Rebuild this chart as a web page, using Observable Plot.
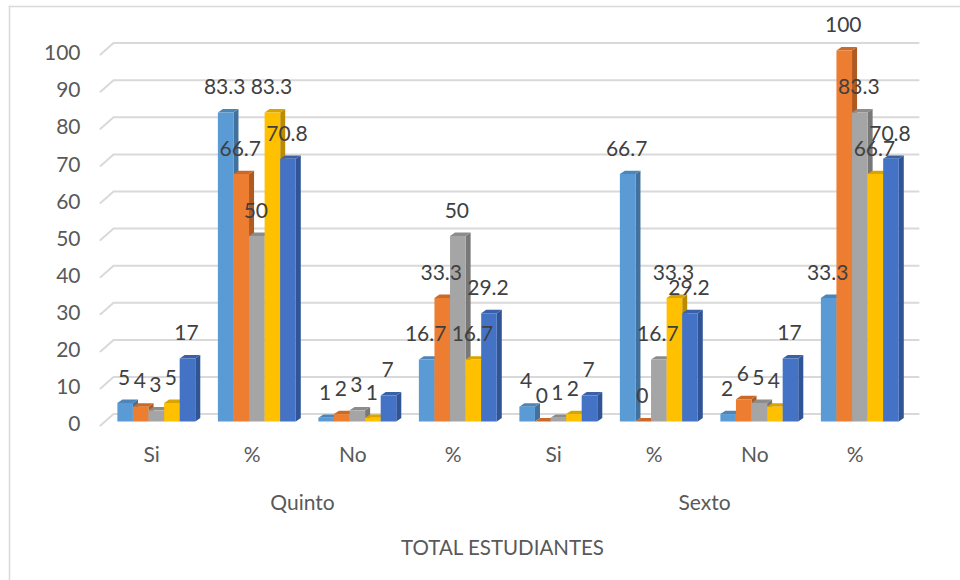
<!DOCTYPE html>
<html><head><meta charset="utf-8">
<script src="https://cdn.jsdelivr.net/npm/d3@7"></script>
<script src="https://cdn.jsdelivr.net/npm/@observablehq/plot@0.6"></script>
<style>html,body{margin:0;padding:0;background:#fff}svg{display:block}</style>
</head><body><div id="c"></div>
<script>
const categories = ["Si","%","No","%","Si","%","No","%"];
const groups = ["Quinto","Sexto"];
const axisTitle = "TOTAL ESTUDIANTES";
const yTicks = [0,10,20,30,40,50,60,70,80,90,100];
const serie1 = [5,83.3,1,16.7,4,66.7,2,33.3];
const serie2 = [4,66.7,2,33.3,0,0,6,100];
const serie3 = [3,50,3,50,1,16.7,5,83.3];
const serie4 = [5,83.3,1,16.7,2,33.3,4,66.7];
const serie5 = [17,70.8,7,29.2,7,29.2,17,70.8];
const series = [serie1,serie2,serie3,serie4,serie5];
const front = ["#5B9BD5","#ED7D31","#A5A5A5","#FFC000","#4472C4"];
const side  = ["#41719C","#AE5A21","#787878","#BC8C00","#2F5597"];
const topc  = ["#4E85B8","#C96A28","#8C8C8C","#D9A300","#3A61A8"];

const barW = 0.155, start = 0.148, ddx = 0.05, ddy = 0.92;
const bars = [];
categories.forEach((c,i)=>series.forEach((s,k)=>{
  bars.push({x0:i+start+k*barW, x1:i+start+(k+1)*barW, v:s[i], k});
}));
const faces = [];
bars.forEach((b,n)=>{
  const add=(name,fill,pts)=>pts.forEach(([x,y])=>faces.push({id:n+name,fill,x,y}));
  add("s",side[b.k],[[b.x1,0],[b.x1+ddx,ddy],[b.x1+ddx,b.v+ddy],[b.x1,b.v]]);
  add("t",topc[b.k],[[b.x0,b.v],[b.x0+ddx,b.v+ddy],[b.x1+ddx,b.v+ddy],[b.x1,b.v]]);
  add("f",front[b.k],[[b.x0,0],[b.x0,b.v],[b.x1,b.v],[b.x1,0]]);
});
const grid = yTicks.flatMap(v=>[
  {v,x:-0.02,y:v-1.1},{v,x:0.11,y:v+2.0},{v,x:8.12,y:v+2.0}
]);
const font = "Lato";
const ink = "#595959";
const chart = Plot.plot({
  width:960,height:580,
  marginLeft:9,marginTop:6,marginRight:0,marginBottom:0,
  x:{domain:[0,8],range:[102,906],axis:null},
  y:{domain:[0,100],range:[421,50],axis:null},
  style:{fontFamily:font,background:"transparent"},
  marks:[
    Plot.frame({anchor:"top",stroke:"#d9d9d9",strokeWidth:1.5}),
    Plot.frame({anchor:"left",stroke:"#d9d9d9",strokeWidth:1.5}),
    Plot.line(grid,{x:"x",y:"y",z:"v",stroke:"#d9d9d9",strokeWidth:2}),
    Plot.line(faces,{x:"x",y:"y",z:"id",fill:"fill",stroke:"none",curve:"linear-closed"}),
    Plot.text(yTicks,{x:()=>0,y:d=>d,text:d=>String(d),dx:-22,dy:3,textAnchor:"end",fontSize:21,fill:ink}),
    Plot.text(categories,{x:(d,i)=>i+0.49,y:()=>0,text:d=>d,dy:34,fontSize:21,fill:ink}),
    Plot.text(groups,{x:(d,i)=>i*4+1.99,y:()=>0,text:d=>d,dy:82,fontSize:21,fill:ink}),
    Plot.text([axisTitle],{x:()=>3.98,y:()=>0,text:d=>d,dy:127,fontSize:20.5,fill:ink}),
    Plot.text(bars,{x:d=>(d.x0+d.x1)/2,y:"v",text:d=>String(d.v),dx:-1,dy:-25,fontSize:21,fill:"#404040"})
  ]
});
document.getElementById("c").append(chart);
</script></body></html>
